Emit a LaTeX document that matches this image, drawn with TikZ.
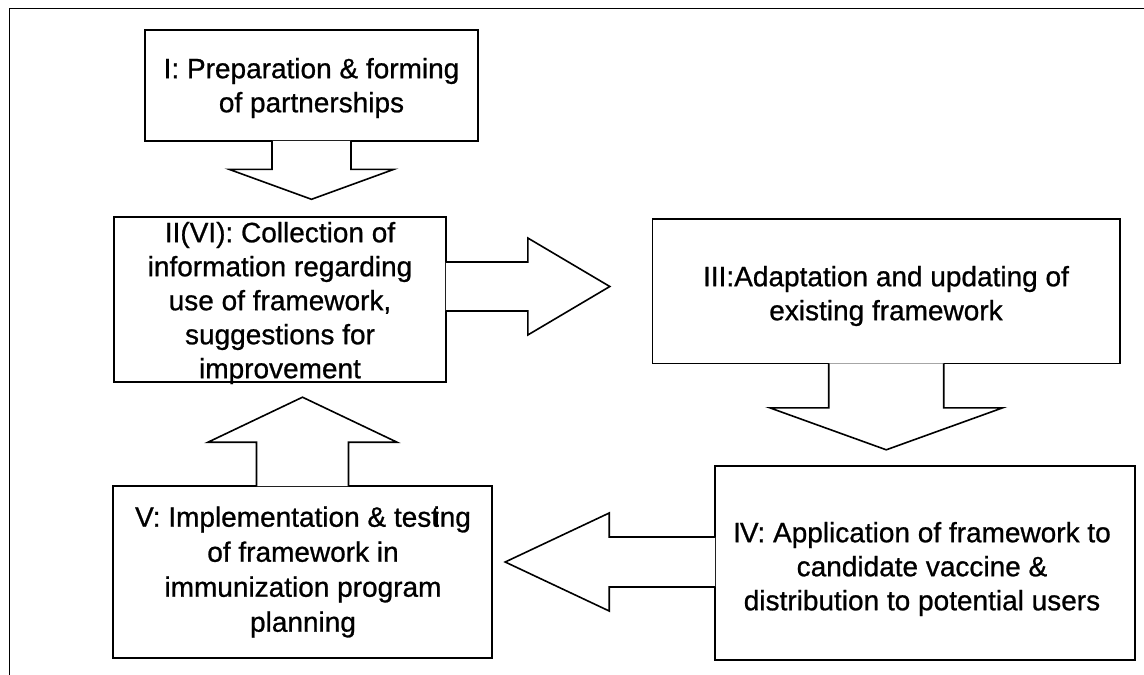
\documentclass[tikz,border=0pt]{standalone}
\usepackage{fontspec}
\setmainfont[FakeBold=0.8]{Liberation Sans}
\usetikzlibrary{calc}
\begin{document}
\begin{tikzpicture}[x=1pt,y=-1pt,
  stage/.style={draw, line width=1.6pt, inner sep=0pt},
  stagetext/.style={align=center, inner sep=0pt, font=\fontsize{28}{34}\selectfont},
  blockarrow/.style={draw, line width=1.6pt, line join=miter, fill=white}]
\useasboundingbox (0,0) rectangle (1144,675);
\fill[white] (0,0) rectangle (1144,675);
% page frame (top and left edges only)
\draw[line width=1.3pt] (1144,8.5) -- (9.5,8.5) -- (9.5,675);

% stage boxes
\node[stage, minimum width=333pt, minimum height=111pt] (s1) at (311.5,85.5) {};
\node[stage, minimum width=332pt, minimum height=165pt] (s2) at (280,299.5) {};
\node[stage, minimum width=467.5pt, minimum height=144.5pt] (s3) at (886.25,291.25) {};
\node[stage, minimum width=420pt, minimum height=194pt] (s4) at (925,563) {};
\node[stage, minimum width=379pt, minimum height=172pt] (s5) at (302.5,572) {};

% block arrows between the stages (open at the box they leave)
\draw[blockarrow] ($(s1.south)+(-39.5,-0.9)$) -- ++(0,28.4) -- ++(-43,0) -- ++(82.5,30) -- ++(82.5,-30) -- ++(-43,0) -- ++(0,-28.4);
\draw[blockarrow] ($(s2.east)+(-0.9,-37.5)$) -- ++(81.9,0) -- ++(0,-24) -- ++(82,48.5) -- ++(-82,48.5) -- ++(0,-24) -- ++(-81.9,0);
\draw[blockarrow] ($(s3.south)+(-57.5,-0.9)$) -- ++(0,44.4) -- ++(-59,0) -- ++(116.5,42) -- ++(116.5,-42) -- ++(-59,0) -- ++(0,-44.4);
\draw[blockarrow] ($(s4.west)+(0.9,-26)$) -- ++(-105.9,0) -- ++(0,-24) -- ++(-104,49) -- ++(104,49) -- ++(0,-24) -- ++(105.9,0);
\draw[blockarrow] ($(s5.north)+(-46,0.9)$) -- ++(0,-43.9) -- ++(-48.5,0) -- ++(94.5,-45) -- ++(94.5,45) -- ++(-48.5,0) -- ++(0,43.9);

% stage texts
\node[stagetext] (t1) at (311.5,88) {I: Preparation \& forming\\of partnerships};
\node[stagetext] (t2) at (280,303) {II(VI): Collection of\\information regarding\\use of framework,\\suggestions for\\improvement};
\node[stagetext] (t3) at (886,296) {III:Adaptation and updating of\\existing framework};
\node[stagetext] (t4) at (922,569) {I\kern-0.04em V: Application of framework to\\candidate vaccine \&\\distribution to potential users};
\node[stagetext, font=\fontsize{28}{35}\selectfont] (t5) at (303,572) {V: Implementation \& tes\kern0pt t\kern-0.2em ing\\of framework in\\immunization program\\planning};
\end{tikzpicture}
\end{document}
